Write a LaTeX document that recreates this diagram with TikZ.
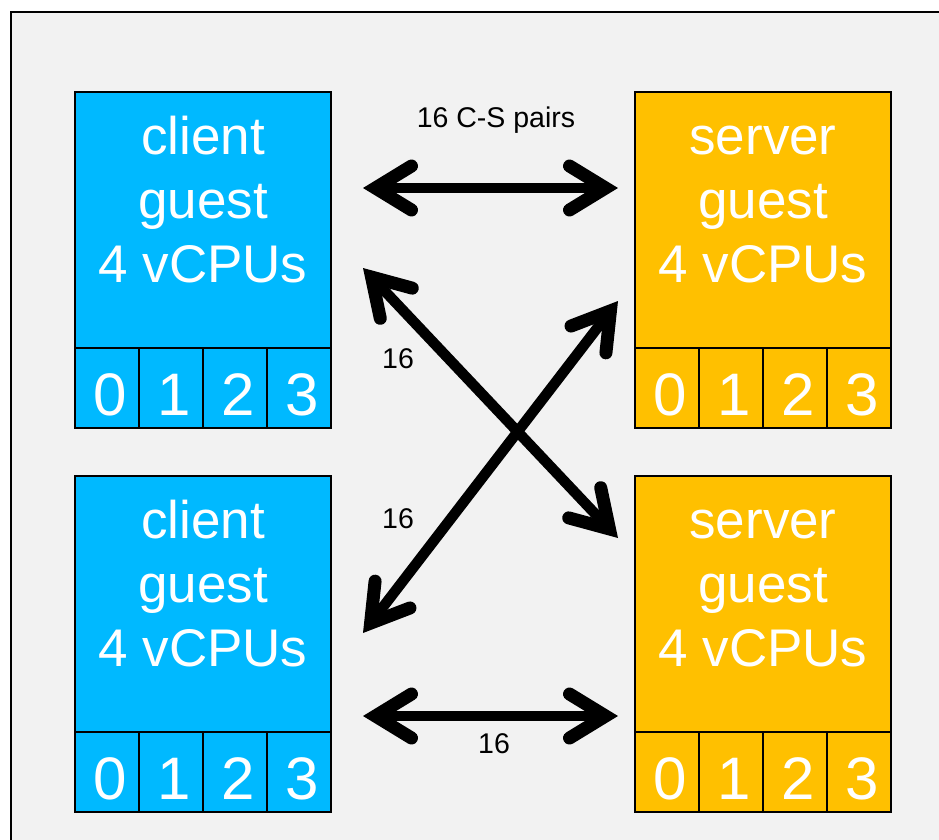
\documentclass[tikz,border=0pt]{standalone}
\usepackage{fontspec}
\setmainfont{Liberation Sans}
\usetikzlibrary{arrows.meta}
\definecolor{clientblue}{HTML}{00B9FF}
\definecolor{servergold}{HTML}{FFC000}
\definecolor{panelgray}{HTML}{F2F2F2}
\tikzset{
  guestbody/.style={draw=black, line width=2pt, minimum width=256pt, minimum height=256pt,
    inner sep=0pt, outer sep=0pt, anchor=north west},
  cpucell/.style={draw=black, line width=2pt, minimum width=64pt, minimum height=80pt,
    inner sep=0pt, outer sep=0pt, anchor=north west, text=white,
    font=\fontsize{60}{60}\selectfont, text height=54pt, text depth=0pt},
  guesttext/.style={text=white, align=center, inner sep=0pt,
    font=\fontsize{53}{64}\selectfont},
  smalllabel/.style={text=black, inner sep=0pt, font=\fontsize{28.5}{30}\selectfont},
  barb/.tip={Straight Barb[length=36pt,width=44pt,line width=13pt,line cap=round,line join=miter]},
  biarrow/.style={line width=10.5pt, line cap=round, arrows={barb-barb}}
}
\begin{document}
\begin{tikzpicture}[x=1pt,y=-1pt]
  \clip (0,0) rectangle (939,839);
  \fill[white] (0,0) rectangle (939,839);
  % outer panel
  \draw[line width=2pt, fill=panelgray] (11,12) rectangle (980,880);

  % guest boxes with their vCPU cells
  \foreach \nm/\x/\y/\c/\role in {cl1/75/92/clientblue/client, sv1/635/92/servergold/server,
                                  cl2/75/476/clientblue/client, sv2/635/476/servergold/server}{
    \node[guestbody, fill=\c] (\nm) at (\x,\y) {};
    \node[guesttext] (\nm-txt) at (\x+128,\y+108) {\role\vphantom{l}\\guest\\4 vCPUs};
    \foreach \k in {0,...,3}{
      \node[cpucell, fill=\c] (\nm-\k) at (\x+64*\k,\y+256) {\kern6pt\k};
    }
  }

  % arrow end points
  \coordinate (ta) at (363,188);
  \coordinate (tb) at (618,188);
  \coordinate (ba) at (363,716);
  \coordinate (bb) at (618,716);
  \coordinate (da) at (363,268);
  \coordinate (db) at (618,538);
  \coordinate (ea) at (618,301);
  \coordinate (eb) at (363,633);

  \draw[biarrow] (ta) -- (tb);
  \draw[biarrow] (da) -- (db);
  \draw[biarrow] (ea) -- (eb);
  \draw[biarrow] (ba) -- (bb);

  % connection counts
  \node[smalllabel] (lt) at (496,120) {16 C-S pairs};
  \node[smalllabel] (ld) at (398,359) {16};
  \node[smalllabel] (le) at (398,519) {16};
  \node[smalllabel] (lb) at (494,744) {16};
\end{tikzpicture}
\end{document}
